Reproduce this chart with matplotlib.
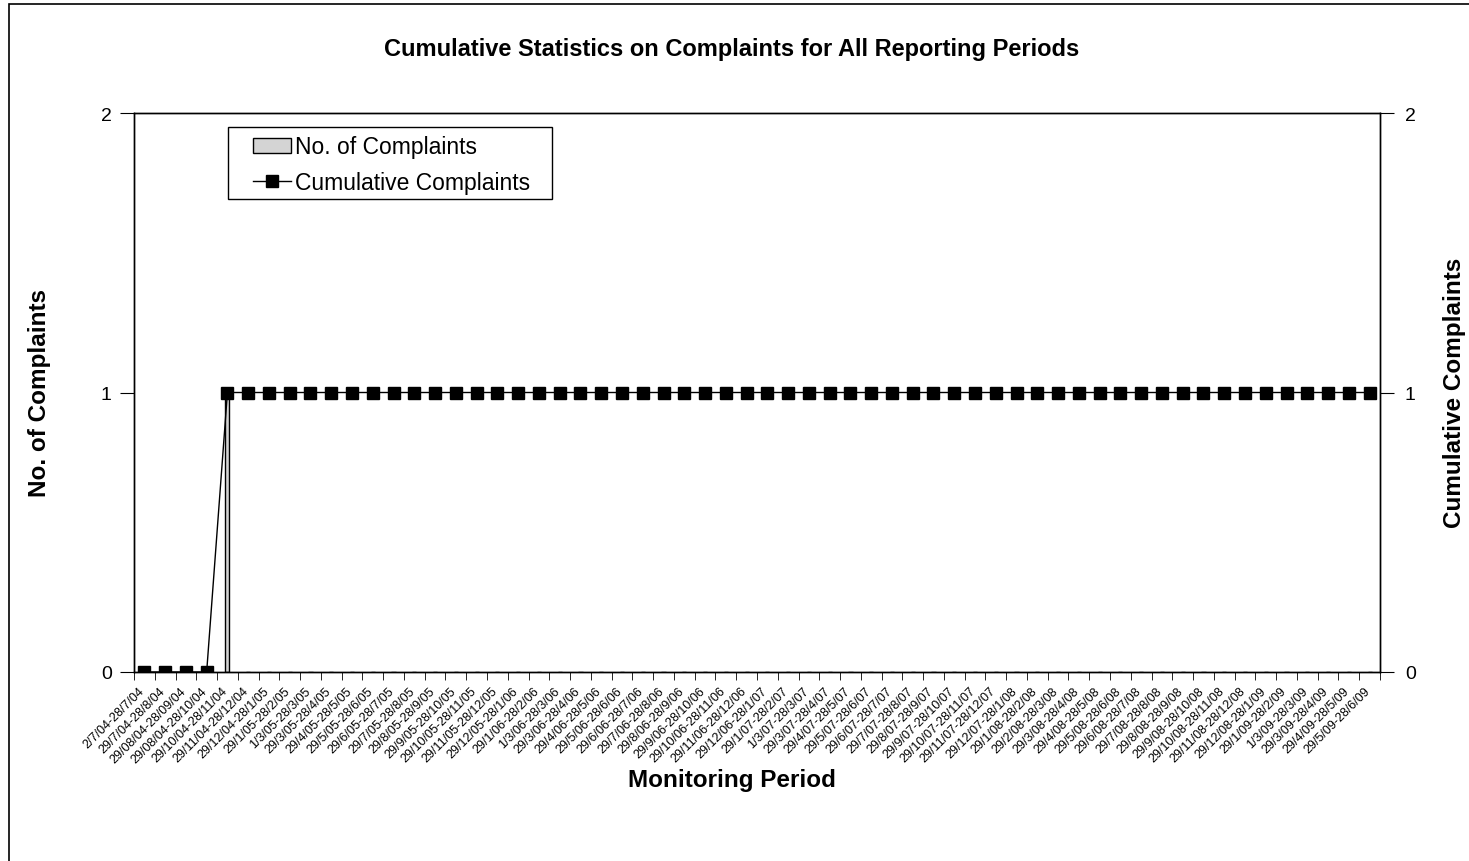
import numpy as np
import matplotlib
matplotlib.use('Agg')
import matplotlib.pyplot as plt
import matplotlib.transforms as mtransforms
from matplotlib.patches import Rectangle

plt.rcParams['font.family'] = ['Liberation Sans', 'DejaVu Sans']

# Monitoring periods (category labels)
periods = [
    '2/7/04-28/7/04', '29/7/04-28/8/04', '29/08/04-28/09/04', '29/08/04-28/10/04',
    '29/10/04-28/11/04', '29/11/04-28/12/04', '29/12/04-28/1/05', '29/1/05-28/2/05',
    '1/3/05-28/3/05', '29/3/05-28/4/05', '29/4/05-28/5/05', '29/5/05-28/6/05',
    '29/6/05-28/7/05', '29/7/05-28/8/05', '29/8/05-28/9/05', '29/9/05-28/10/05',
    '29/10/05-28/11/05', '29/11/05-28/12/05', '29/12/05-28/1/06', '29/1/06-28/2/06',
    '1/3/06-28/3/06', '29/3/06-28/4/06', '29/4/06-28/5/06', '29/5/06-28/6/06',
    '29/6/06-28/7/06', '29/7/06-28/8/06', '29/8/06-28/9/06', '29/9/06-28/10/06',
    '29/10/06-28/11/06', '29/11/06-28/12/06', '29/12/06-28/1/07', '29/1/07-28/2/07',
    '1/3/07-28/3/07', '29/3/07-28/4/07', '29/4/07-28/5/07', '29/5/07-28/6/07',
    '29/6/07-28/7/07', '29/7/07-28/8/07', '29/8/07-28/9/07', '29/9/07-28/10/07',
    '29/10/07-28/11/07', '29/11/07-28/12/07', '29/12/07-28/1/08', '29/1/08-28/2/08',
    '29/2/08-28/3/08', '29/3/08-28/4/08', '29/4/08-28/5/08', '29/5/08-28/6/08',
    '29/6/08-28/7/08', '29/7/08-28/8/08', '29/8/08-28/9/08', '29/9/08-28/10/08',
    '29/10/08-28/11/08', '29/11/08-28/12/08', '29/12/08-28/1/09', '29/1/09-28/2/09',
    '1/3/09-28/3/09', '29/3/09-28/4/09', '29/4/09-28/5/09', '29/5/09-28/6/09',
]

# Complaints per period (only one complaint, in period 5)
complaints = [0, 0, 0, 0, 1] + [0] * 55
# Cumulative complaints
cumulative = [0, 0, 0, 0] + [1] * 56

x = np.arange(len(periods))

fig = plt.figure(figsize=(14.69, 8.62), dpi=100)
ax = fig.add_axes([0.0912, 0.2193, 0.8482, 0.6484])
ax2 = ax.twinx()

bars = ax.bar(x, complaints, width=0.2, color='#d4d4d4', edgecolor='black',
              linewidth=1, label='No. of Complaints', zorder=2)
line, = ax2.plot(x, cumulative, color='black', linewidth=1, marker='s',
                 markersize=8, label='Cumulative Complaints', zorder=3)

ax.set_xlim(-0.5, len(periods) - 0.5)
ax.set_ylim(0, 2)
ax2.set_ylim(0, 2)
ax.set_yticks([0, 1, 2])
ax2.set_yticks([0, 1, 2])

ax.set_xticks(x)
ax.set_xticklabels(periods, rotation=45, ha='right', va='top',
                   rotation_mode='anchor', fontsize=9)
ax.tick_params(axis='x', length=0, pad=9)
# nudge the slanted labels a little to the left, like the original
shift = mtransforms.ScaledTranslation(-0.06, 0, fig.dpi_scale_trans)
for lbl in ax.get_xticklabels():
    lbl.set_transform(lbl.get_transform() + shift)
ax.set_xticks(np.arange(-0.5, len(periods) + 0.5, 1), minor=True)
ax.tick_params(axis='x', which='minor', length=6, direction='out')
ax.tick_params(axis='y', labelsize=14, length=10, pad=6)
ax2.tick_params(axis='y', labelsize=14, length=10, pad=8)

for a in (ax, ax2):
    for s in a.spines.values():
        s.set_linewidth(1)

fig.text(0.4983, 0.095, 'Monitoring Period', ha='center', va='center',
         fontsize=17.5, fontweight='bold')
fig.text(40 / 1469, 0.544, 'No. of Complaints', ha='center', va='center',
         rotation=90, fontsize=17.5, fontweight='bold')
fig.text(1455 / 1469, 0.544, 'Cumulative Complaints', ha='center', va='center',
         rotation=90, fontsize=17.5, fontweight='bold')
fig.text(0.4983, 0.942, 'Cumulative Statistics on Complaints for All Reporting Periods',
         ha='center', va='center', fontsize=17, fontweight='bold')

# legend box drawn separately (wide padding around the entries)
ax2.add_patch(Rectangle((0.0754, 0.846), 0.26, 0.1288, transform=ax2.transAxes,
                        facecolor='white', edgecolor='black', linewidth=1,
                        zorder=4))
leg = ax2.legend([bars, line], ['No. of Complaints', 'Cumulative Complaints'],
                 loc='upper left', bbox_to_anchor=(0.0955, 0.960), fontsize=16.5,
                 frameon=False, borderaxespad=0, borderpad=0,
                 handlelength=1.65, handleheight=0.6,
                 handletextpad=0.17, labelspacing=0.55)
leg.set_zorder(5)

# outer chart border
fig.patches.append(Rectangle((9 / 1469, -0.02), 1.1, 0.9942 + 0.02,
                             transform=fig.transFigure, fill=False,
                             edgecolor='black', linewidth=1.2))

fig.savefig('out.png', dpi=100)
